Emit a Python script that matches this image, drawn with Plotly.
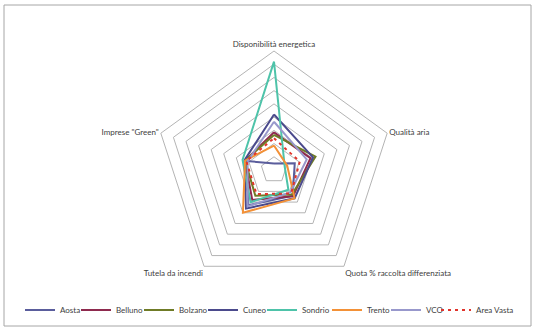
import plotly.graph_objects as go

categories = ["Disponibilità energetica", "Qualità aria", "Quota % raccolta differenziata",
              "Tutela da incendi", 'Imprese "Green"']

series_names = ["Aosta", "Belluno", "Bolzano", "Cuneo", "Sondrio", "Trento", "VCO", "Area Vasta"]
aosta = [0.5, 1.65, 2.4, 3.3, 2.2]
belluno = [2.85, 2.9, 2.45, 2.8, 2.3]
bolzano = [2.65, 3.3, 2.3, 2.4, 2.3]
cuneo = [4.2, 3.1, 2.65, 3.6, 2.35]
sondrio = [8.2, 0.85, 1.85, 3.0, 2.5]
trento = [1.85, 1.05, 2.65, 4.0, 2.3]
vco = [3.65, 2.6, 2.1, 3.4, 2.1]
area_vasta = [2.4, 2.05, 2.2, 2.25, 2.2]

values = [aosta, belluno, bolzano, cuneo, sondrio, trento, vco, area_vasta]
colors = ["#5A5D9C", "#8E2A4E", "#6F7B26", "#4B4A8C", "#4EC3A9", "#F39137", "#9898CC", "#E0342C"]
# left edge (px) of each legend entry text
legend_text_x = [60, 116, 179, 243, 302, 367, 426, 476]

W, H = 536, 331
cx, cy, R = 274, 170, 119

fig = go.Figure()
legend_layouts = {}
for i, (name, vals, col) in enumerate(zip(series_names, values, colors)):
    dash = "3px,4px" if name == "Area Vasta" else "solid"
    lname = "legend" if i == 0 else f"legend{i + 1}"
    fig.add_trace(go.Scatterpolar(
        r=vals + vals[:1],
        theta=categories + categories[:1],
        mode="lines",
        name=name,
        legend=lname,
        showlegend=True,
        line=dict(color=col, width=2, dash=dash),
    ))
    legend_layouts[lname] = dict(
        orientation="h", x=(legend_text_x[i] - 40) / W, xanchor="left",
        y=(H - 310) / H, yanchor="middle", itemwidth=30,
        font=dict(family="Lato", size=8, color="#404040"),
        bgcolor="rgba(0,0,0,0)", borderwidth=0,
    )

fig.update_layout(
    width=W, height=H,
    margin=dict(l=0, r=0, t=0, b=0),
    paper_bgcolor="white",
    showlegend=True,
    font=dict(family="Lato", size=8, color="#404040"),
    polar=dict(
        domain=dict(x=[(cx - R) / W, (cx + R) / W], y=[(H - cy - R) / H, (H - cy + R) / H]),
        gridshape="linear",
        bgcolor="white",
        radialaxis=dict(range=[0, 9], dtick=1, showticklabels=False, ticks="",
                        showline=False, gridcolor="#B4B4B4", gridwidth=1),
        angularaxis=dict(direction="clockwise", rotation=90, showgrid=False,
                         linecolor="#B4B4B4", linewidth=1, ticks="",
                         tickfont=dict(family="Lato", size=8, color="#404040")),
    ),
    shapes=[dict(type="rect", xref="paper", yref="paper",
                 x0=4 / W, x1=531 / W, y0=(H - 326) / H, y1=(H - 5) / H,
                 line=dict(color="#A6A6A6", width=1), fillcolor="rgba(0,0,0,0)")],
    **legend_layouts,
)

fig.write_html("out.html")
